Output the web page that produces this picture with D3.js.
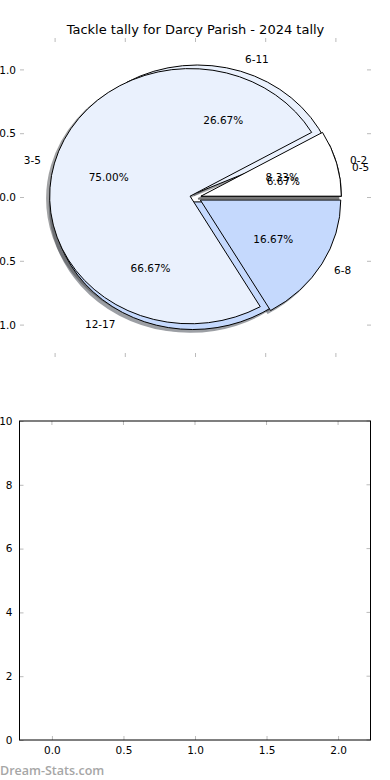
<!DOCTYPE html>
<html>
<head>
<meta charset="utf-8">
<script src="https://cdn.jsdelivr.net/npm/d3@7"></script>
<style>
  body { margin: 0; background: #fff; }
  svg { display: block; font-family: "DejaVu Sans", sans-serif; }
  .tick-grey line { stroke: #bbb; }
</style>
</head>
<body>
<script>
// chart data
var title = "Tackle tally for Darcy Parish - 2024 tally";
// first pie (drawn underneath)
var labelsB = ["0-5", "6-11", "12-17"];
var countsB = [1, 4, 10];
// second pie (drawn on top)
var labelsA = ["0-2", "3-5", "6-8"];
var countsA = [1, 9, 2];
var sliceColors = ["#ffffff", "#eaf1fd", "#c5d9fd"];
var pieTicks = [-1.0, -0.5, 0.0, 0.5, 1.0];
var emptyYTicks = [0, 2, 4, 6, 8, 10];
var emptyXTicks = [0.0, 0.5, 1.0, 1.5, 2.0];

var W = 390, H = 780;
var svg = d3.select("body").append("svg")
    .attr("width", W)
    .attr("height", H);

// ---- pie axes ----
var pieBox = { left: 20, right: 371, top: 38, bottom: 357 };
var x = d3.scaleLinear().domain([-1.25, 1.25]).range([pieBox.left, pieBox.right]);
var y = d3.scaleLinear().domain([-1.25, 1.25]).range([pieBox.bottom, pieBox.top]);
var sx = x(1) - x(0), sy = y(0) - y(1);
var explode = 0.04, shadowOff = 0.02;

svg.append("text")
    .attr("x", (pieBox.left + pieBox.right) / 2)
    .attr("y", 34)
    .attr("text-anchor", "middle")
    .style("font-size", "13px")
    .text(title);

// ticks drawn inward on all four sides, no spines
var pieTickG = svg.append("g").attr("class", "tick-grey");
pieTicks.forEach(function (v) {
    pieTickG.append("line").attr("x1", x(v)).attr("x2", x(v)).attr("y1", pieBox.top).attr("y2", pieBox.top + 4);
    pieTickG.append("line").attr("x1", x(v)).attr("x2", x(v)).attr("y1", pieBox.bottom).attr("y2", pieBox.bottom - 4);
    pieTickG.append("line").attr("y1", y(v)).attr("y2", y(v)).attr("x1", pieBox.left).attr("x2", pieBox.left + 4);
    pieTickG.append("line").attr("y1", y(v)).attr("y2", y(v)).attr("x1", pieBox.right).attr("x2", pieBox.right - 4);
    pieTickG.append("text")
        .attr("x", pieBox.left - 4)
        .attr("y", y(v))
        .attr("dy", "0.35em")
        .attr("text-anchor", "end")
        .style("font-size", "10.5px")
        .attr("fill", "#000")
        .text(d3.format(".1f")(v).replace("−", "-"));
});

// build wedges, matplotlib style: start at 0 deg, counter clockwise
function wedges(labels, counts) {
    var total = d3.sum(counts);
    var pie = d3.pie().sort(null).startAngle(0).endAngle(2 * Math.PI);
    return pie(counts).map(function (p, i) {
        var t1 = p.startAngle, t2 = p.endAngle, tm = (t1 + t2) / 2;
        return {
            label: labels[i],
            pct: d3.format(".2f")(100 * counts[i] / total) + "%",
            color: sliceColors[i % sliceColors.length],
            t1: t1, t2: t2, tm: tm,
            cx: explode * Math.cos(tm),
            cy: explode * Math.sin(tm)
        };
    });
}
var pies = [wedges(labelsB, countsB), wedges(labelsA, countsA)];

// d3.arc angle is clockwise from 12 o'clock; convert from math angle
var arc = d3.arc().innerRadius(0).outerRadius(1)
    .startAngle(function (d) { return Math.PI / 2 - d.t2; })
    .endAngle(function (d) { return Math.PI / 2 - d.t1; });

function shadeColor(c) {
    var r = d3.rgb(c);
    return d3.rgb(r.r * 0.3, r.g * 0.3, r.b * 0.3).toString();
}

var pieG = svg.append("g");
// shadows first
pies.forEach(function (ws) {
    ws.forEach(function (d) {
        pieG.append("path")
            .attr("transform", "translate(" + x(d.cx - shadowOff) + "," + y(d.cy - shadowOff) + ") scale(" + sx + "," + sy + ")")
            .attr("d", arc(d))
            .attr("fill", shadeColor(d.color))
            .attr("stroke", shadeColor(d.color))
            .attr("stroke-width", 1.5)
            .attr("vector-effect", "non-scaling-stroke")
            .attr("opacity", 0.5);
    });
});
// wedges
pies.forEach(function (ws) {
    ws.forEach(function (d) {
        pieG.append("path")
            .attr("transform", "translate(" + x(d.cx) + "," + y(d.cy) + ") scale(" + sx + "," + sy + ")")
            .attr("d", arc(d))
            .attr("fill", d.color)
            .attr("stroke", "#000")
            .attr("stroke-width", 1)
            .attr("stroke-linejoin", "round")
            .attr("vector-effect", "non-scaling-stroke");
    });
});
// labels and percents
pies.forEach(function (ws) {
    ws.forEach(function (d) {
        var lx = d.cx + 1.1 * Math.cos(d.tm), ly = d.cy + 1.1 * Math.sin(d.tm);
        pieG.append("text")
            .attr("x", x(lx))
            .attr("y", y(ly))
            .attr("dy", "0.4em")
            .attr("text-anchor", lx > 0 ? "start" : "end")
            .style("font-size", "10.5px")
            .text(d.label);
        var px = d.cx + 0.6 * Math.cos(d.tm), py = d.cy + 0.6 * Math.sin(d.tm);
        pieG.append("text")
            .attr("x", x(px))
            .attr("y", y(py))
            .attr("dy", "0.4em")
            .attr("text-anchor", "middle")
            .style("font-size", "10.5px")
            .text(d.pct);
    });
});

// ---- empty axes ----
var box2 = { left: 19.5, right: 370.5, top: 421, bottom: 740 };
var x2 = d3.scaleLinear().domain([-0.2266, 2.2266]).range([box2.left, box2.right]);
var y2 = d3.scaleLinear().domain([0, 10]).range([box2.bottom, box2.top]);
var g2 = svg.append("g");

var xAxis = g2.append("g")
    .attr("transform", "translate(0," + box2.bottom + ")")
    .call(d3.axisBottom(x2).tickValues(emptyXTicks).tickFormat(d3.format(".1f")).tickSizeInner(-4).tickSizeOuter(0).tickPadding(7));
var yAxis = g2.append("g")
    .attr("transform", "translate(" + box2.left + ",0)")
    .call(d3.axisLeft(y2).tickValues(emptyYTicks).tickFormat(d3.format("d")).tickSizeInner(-4).tickSizeOuter(0).tickPadding(7));
[xAxis, yAxis].forEach(function (a) {
    a.select(".domain").remove();
    a.selectAll(".tick line").attr("stroke", "#bbb");
    a.selectAll(".tick text").style("font-size", "10.5px").attr("fill", "#000").style("font-family", "DejaVu Sans, sans-serif");
});
var tickG2 = g2.append("g").attr("class", "tick-grey");
emptyXTicks.forEach(function (v) {
    tickG2.append("line").attr("x1", x2(v)).attr("x2", x2(v)).attr("y1", box2.top).attr("y2", box2.top + 4);
});
emptyYTicks.forEach(function (v) {
    tickG2.append("line").attr("y1", y2(v)).attr("y2", y2(v)).attr("x1", box2.right).attr("x2", box2.right - 4);
});
g2.append("rect")
    .attr("x", box2.left).attr("y", box2.top)
    .attr("width", box2.right - box2.left).attr("height", box2.bottom - box2.top)
    .attr("fill", "none").attr("stroke", "#000").attr("stroke-width", 1);

// watermark
svg.append("text")
    .attr("x", 0)
    .attr("y", 775)
    .style("font-family", "'Open Sans', sans-serif")
    .style("font-size", "12.5px")
    .style("font-weight", "600")
    .attr("fill", "#a6a6a6")
    .text("Dream-Stats.com");
</script>
</body>
</html>
